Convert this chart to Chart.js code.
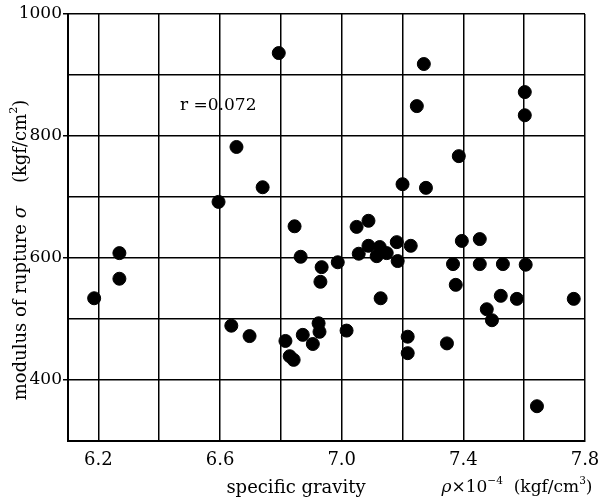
<!DOCTYPE html>
<html>
<head>
<meta charset="utf-8">
<script src="https://cdn.jsdelivr.net/npm/chart.js@4"></script>
<style>
  html, body { margin: 0; padding: 0; background: #fff; }
  #wrap { width: 612px; height: 502px; }
</style>
</head>
<body>
<div id="wrap"><canvas id="myChart" width="612" height="502"></canvas></div>
<script>
// specific gravity (x) and modulus of rupture (y)
const gravity = [6.186, 6.269, 6.269, 6.595, 6.637, 6.654, 6.697, 6.74, 6.793, 6.815,
  6.829, 6.842, 6.845, 6.865, 6.872, 6.905, 6.924, 6.927, 6.934, 6.93,
  6.987, 7.016, 7.049, 7.056, 7.088, 7.088, 7.115, 7.125, 7.128, 7.148,
  7.181, 7.184, 7.20, 7.217, 7.217, 7.227, 7.247, 7.27, 7.277, 7.346,
  7.366, 7.375, 7.385, 7.395, 7.454, 7.454, 7.477, 7.494, 7.523, 7.53,
  7.576, 7.602, 7.602, 7.605, 7.642, 7.763];
const rupture = [534, 608, 566, 692, 489, 782, 472, 716, 936, 464,
  439, 433, 652, 602, 474, 459, 493, 479, 585, 561,
  593, 481, 651, 607, 661, 620, 603, 618, 534, 608,
  626, 595, 721, 471, 444, 620, 849, 918, 715, 460,
  590, 556, 767, 628, 631, 590, 516, 498, 538, 590,
  533, 872, 834, 589, 357, 533];

const xGrid = [6.2, 6.4, 6.6, 6.8, 7.0, 7.2, 7.4, 7.6, 7.8];
const xTickLabels = [6.2, 6.6, 7.0, 7.4, 7.8];
const yGrid = [300, 400, 500, 600, 700, 800, 900, 1000];
const yTickLabels = [400, 600, 800, 1000];
const corrText = "r =0.072";

const serif = "'DejaVu Serif', 'Liberation Serif', serif";

function isLabel(list, v) {
  return list.some(t => Math.abs(t - v) < 1e-6);
}

// draw a run of text pieces one after the other, centred on x
function drawPieces(ctx, pieces, x, y, size) {
  let total = 0;
  pieces.forEach(p => {
    ctx.font = (p.italic ? "italic " : "") + (p.sup ? size * 0.62 : size) + "px " + serif;
    p.w = ctx.measureText(p.t).width;
    total += p.w;
  });
  let cx = x - total / 2;
  pieces.forEach(p => {
    ctx.font = (p.italic ? "italic " : "") + (p.sup ? size * 0.62 : size) + "px " + serif;
    ctx.fillText(p.t, cx, p.sup ? y - size * 0.38 : y);
    cx += p.w;
  });
}

const textPlugin = {
  id: "texts",
  afterDraw(chart) {
    const ctx = chart.ctx;
    ctx.save();
    ctx.fillStyle = "#000";
    ctx.textBaseline = "middle";
    ctx.textAlign = "left";
    ctx.font = "17px " + serif;
    ctx.fillText(corrText, 180, 106);

    // x title
    drawPieces(ctx, [{t: "specific gravity"}], 296, 488, 18);
    drawPieces(ctx, [{t: "ρ", italic: true}, {t: "×10"}, {t: "−4", sup: true},
      {t: "  (kgf/cm"}, {t: "3", sup: true}, {t: ")"}], 517, 488, 17);

    // y title
    ctx.translate(21, 250);
    ctx.rotate(-Math.PI / 2);
    drawPieces(ctx, [{t: "modulus of rupture "}, {t: "σ", italic: true},
      {t: "    (kgf/cm"}, {t: "2", sup: true}, {t: ")"}], 0, 0, 18);
    ctx.restore();
  }
};

new Chart(document.getElementById("myChart"), {
  type: "scatter",
  data: {
    datasets: [{
      data: gravity.map((g, i) => ({x: g, y: rupture[i]})),
      backgroundColor: "#000",
      borderColor: "#000",
      pointRadius: 6.5,
      pointHoverRadius: 6.5
    }]
  },
  options: {
    responsive: false,
    animation: false,
    layout: { padding: { top: 14, right: 27, left: 0, bottom: 0 } },
    plugins: { legend: { display: false }, tooltip: { enabled: false } },
    scales: {
      x: {
        type: "linear",
        min: 6.1,
        max: 7.8,
        afterBuildTicks: s => { s.ticks = xGrid.map(v => ({value: v})); },
        afterFit: s => { s.height = 61; },
        border: { color: "#000", width: 2 },
        grid: { color: "#000", lineWidth: 1.5, drawTicks: false },
        ticks: {
          autoSkip: false,
          maxRotation: 0,
          padding: 9,
          color: "#000",
          font: { family: serif, size: 18 },
          callback: v => isLabel(xTickLabels, v) ? v.toFixed(1) : ""
        }
      },
      y: {
        min: 300,
        max: 1000,
        afterBuildTicks: s => { s.ticks = yGrid.map(v => ({value: v})); },
        afterFit: s => { s.width = 68; },
        border: { color: "#000", width: 2 },
        grid: {
          color: "#000",
          lineWidth: 1.5,
          tickLength: 5,
          tickColor: c => isLabel(yTickLabels, c.tick.value) ? "#000" : "rgba(0,0,0,0)"
        },
        ticks: {
          autoSkip: false,
          padding: 1,
          color: "#000",
          font: { family: serif, size: 17 },
          callback: v => isLabel(yTickLabels, v) ? String(v) : ""
        }
      }
    }
  },
  plugins: [textPlugin]
});
</script>
</body>
</html>
